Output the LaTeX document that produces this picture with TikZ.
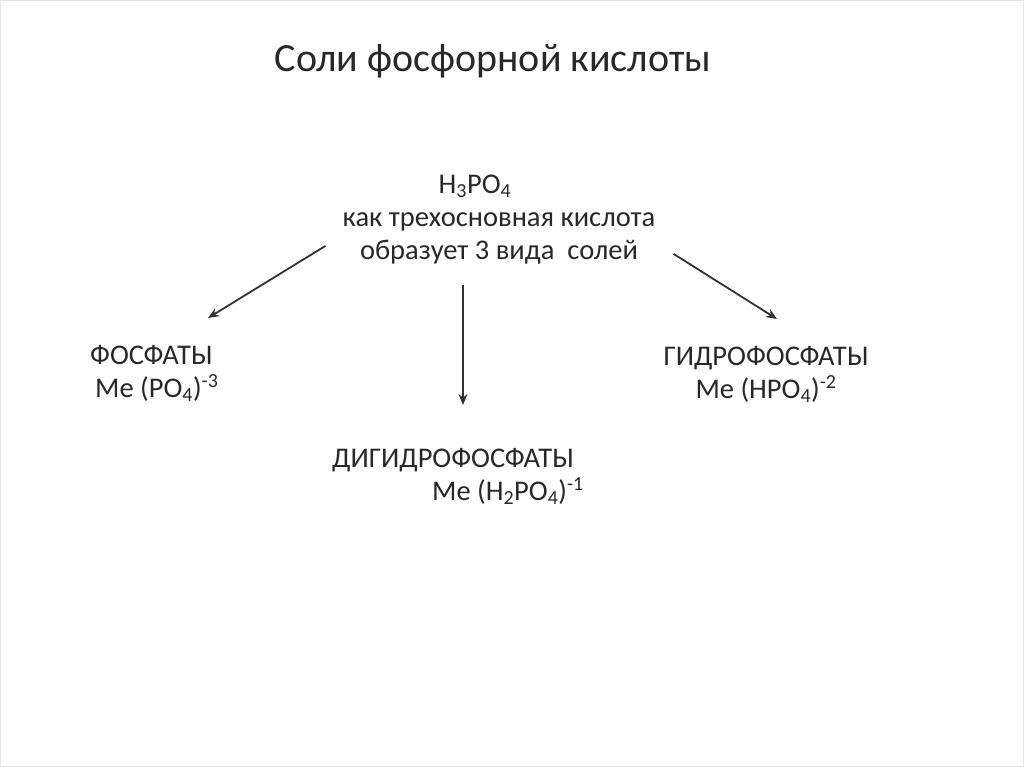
\documentclass[tikz,border=0pt]{standalone}
\usepackage{fontspec}
\setmainfont{Carlito}
\usetikzlibrary{arrows.meta,positioning}
\definecolor{slText} {RGB}{ 40, 40, 40}
\definecolor{slLine} {RGB}{ 50, 50, 50}
\definecolor{slFrame}{RGB}{228,228,228}

\begin{document}
\begin{tikzpicture}[x=1pt,y=-1pt,
  every node/.style={font=\fontsize{28.5}{33}\selectfont,text=slText,inner sep=0pt},
  ttl/.style={font=\fontsize{40}{48}\selectfont},
  acidbox/.style={align=center},
  saltL/.style={align=left,anchor=base west},
  saltC/.style={align=center,anchor=base},
  arr/.style={-{Stealth[length=11pt,width=9pt]},line width=1.8pt,draw=slLine}
]
\useasboundingbox (0,0) rectangle (1024,767);
\draw[slFrame] (0.5,0.5) rectangle (1023.5,766.5);

\node[ttl,anchor=base] (title) at (493,72) {Соли фосфорной кислоты};

\node[acidbox,anchor=base] (acid) at (499,259)
  {H\textsubscript{3}PO\textsubscript{4}\hspace*{48pt}\mbox{}\\
   как трехосновная кислота\\
   образует 3 вида\ \ солей};

\node[saltL] (fos) at (90,397)
  {ФОСФАТЫ\\\hspace*{5pt}Me (PO\textsubscript{4})\textsuperscript{-3}};
\node[saltC] (gidro) at (766,398)
  {ГИДРОФОСФАТЫ\\Me (HPO\textsubscript{4})\textsuperscript{-2}};
\node[saltL] (digidro) at (332,500)
  {ДИГИДРОФОСФАТЫ\\\hspace*{100pt}Me (H\textsubscript{2}PO\textsubscript{4})\textsuperscript{-1}};

% arrow tips, a little above each salt
\coordinate (tipF) at (208,318);
\coordinate (tipD) at (463,405);
\coordinate (tipG) at (777,319);

\draw[arr] ([shift={(-17,-18)}]acid.south west) -- (tipF);
\draw[arr] ([shift={(-36,21)}]acid.south) -- (tipD);
\draw[arr] ([shift={(18,-10)}]acid.south east) -- (tipG);
\end{tikzpicture}
\end{document}
